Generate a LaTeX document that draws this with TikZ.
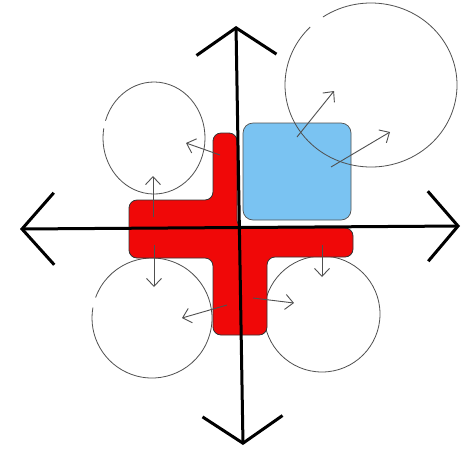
\documentclass[tikz,border=0pt]{standalone}
\usepackage{tikz}
\usetikzlibrary{arrows.meta}
\definecolor{skyfill}{RGB}{122,195,242}
\definecolor{crossred}{RGB}{240,8,8}
\definecolor{penline}{RGB}{80,80,80}

\begin{document}
\begin{tikzpicture}[
  x=1pt, y=-1pt,
  axis/.style={{Straight Barb[length=27pt,width=80pt]}-{Straight Barb[length=27pt,width=80pt]}, line width=3pt, line cap=round, line join=round},
  blob/.style={draw=penline, line width=0.8pt},
  arr/.style={-{Straight Barb[length=8pt,width=15pt]}, draw=penline, line width=0.9pt}
]
\useasboundingbox[fill=white] (0,0) rectangle (462,456);

% blue square
\fill[skyfill, draw=penline, line width=0.7pt, rounded corners=10pt] (243,123) rectangle (351,220);

% loose circles
\draw[blob] (154,138) ++(198:51 and 56) arc[start angle=198, end angle=550, x radius=51, y radius=56];
\draw[blob] (371,85) ++(236:86 and 82) arc[start angle=236, end angle=585, x radius=86, y radius=82];
\draw[blob] (152,318) ++(200:60 and 60) arc[start angle=200, end angle=550, x radius=60, y radius=60];
\draw[blob] (322,314) circle[x radius=58, y radius=58];

% red cross
\fill[crossred, draw=black!80, line width=0.8pt, rounded corners=8pt]
  (213,133) -- (237,133) -- (237,228) -- (353,228) -- (353,257) -- (267,257)
  -- (267,335) -- (213,335) -- (213,258) -- (129,258) -- (129,200) -- (213,200) -- cycle;

% arrow ends
\coordinate (ulA) at (220,155);  \coordinate (ulB) at (186,143);
\coordinate (ulC) at (153,217);  \coordinate (ulD) at (153,176);
\coordinate (urA) at (297,137);  \coordinate (urB) at (334,91);
\coordinate (urC) at (331,167);  \coordinate (urD) at (390,132);
\coordinate (llA) at (154,245);  \coordinate (llB) at (154,287);
\coordinate (llC) at (227,305);  \coordinate (llD) at (182,318);
\coordinate (lrA) at (322,245);  \coordinate (lrB) at (322,277);
\coordinate (lrC) at (253,298);  \coordinate (lrD) at (294,303);

\draw[arr] (ulA) -- (ulB);
\draw[arr] (ulC) -- (ulD);
\draw[arr] (urA) -- (urB);
\draw[arr] (urC) -- (urD);
\draw[arr] (llA) -- (llB);
\draw[arr] (llC) -- (llD);
\draw[arr] (lrA) -- (lrB);
\draw[arr] (lrC) -- (lrD);

% axes
\coordinate (top) at (236,26);
\coordinate (bottom) at (243,445);
\coordinate (left) at (20,229);
\coordinate (right) at (460,226);
\draw[axis] (bottom) -- (top);
\draw[axis, {Straight Barb[length=32pt,width=72pt]}-{Straight Barb[length=30pt,width=70pt]}] (left) -- (right);
\end{tikzpicture}
\end{document}
